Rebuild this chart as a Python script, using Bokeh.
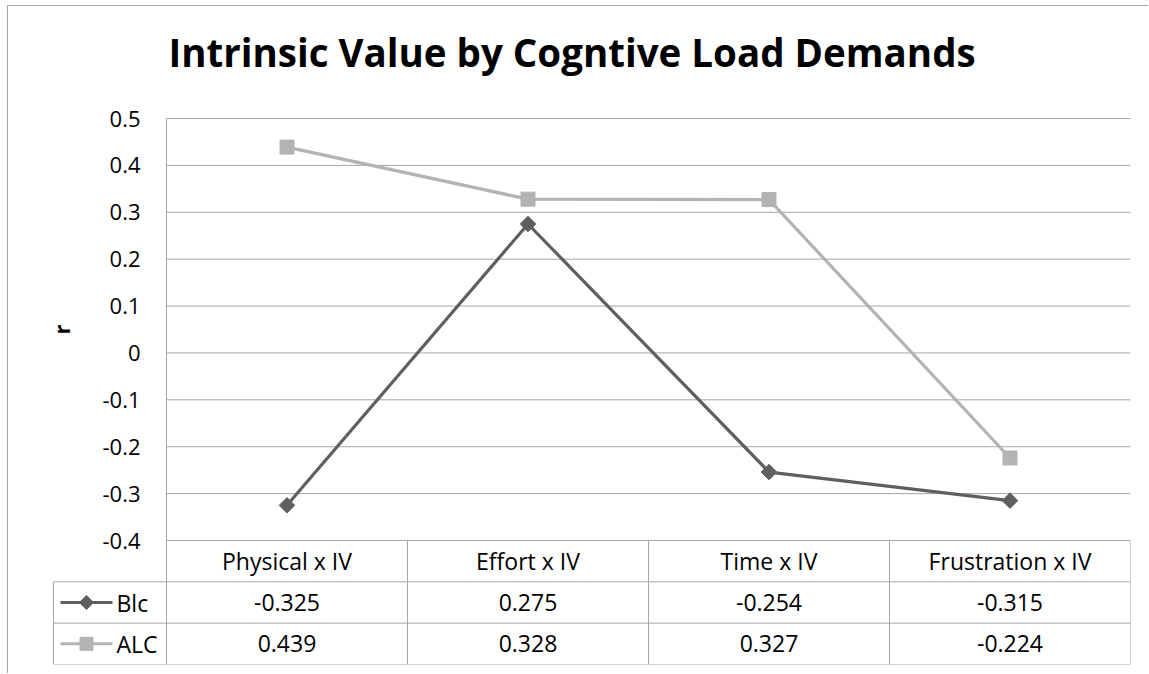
import math
from bokeh.plotting import figure
from bokeh.models import Range1d
from bokeh.embed import file_html
from bokeh.resources import INLINE
from bokeh.core.properties import value

TITLE = "Intrinsic Value by Cogntive Load Demands"
CATEGORIES = ["Physical x IV", "Effort x IV", "Time x IV", "Frustration x IV"]
SERIES_NAMES = ["Blc", "ALC"]
BLC = [-0.325, 0.275, -0.254, -0.315]
ALC = [0.439, 0.328, 0.327, -0.224]
Y_TICKS = [-0.4, -0.3, -0.2, -0.1, 0, 0.1, 0.2, 0.3, 0.4, 0.5]
Y_LABEL = "r"

FONT = "Open Sans"
GRID = "#a6a6a6"
COLORS = ["#5f5f5f", "#b3b3b3"]
SERIES = [BLC, ALC]

# ---- geometry (pixels) ----
W, H = 1141, 668
BORDER_L, BORDER_R, BORDER_T, BORDER_B = 12, 19, 0, 10
FRAME_W = W - BORDER_L - BORDER_R
FRAME_H = H - BORDER_T - BORDER_B
N = len(CATEGORIES)
COL_W = 241.0                  # px per category column
PLOT_LEFT_PAD = 146            # px between frame left and value axis
LEG_W = 113                    # legend-key column width of the data table
PLOT_H = 422                   # px of the plotting area (-0.4 .. 0.5)
TOP_PAD = 112                  # px above the 0.5 gridline inside the frame (title area)
TITLE_RISE = 67                # px from the 0.5 gridline up to the title baseline
Y_TOP, Y_BASE = Y_TICKS[-1], Y_TICKS[0]
PX_PER_UNIT = PLOT_H / (Y_TOP - Y_BASE)
ROW = (FRAME_H - PLOT_H - TOP_PAD) / 3 / PX_PER_UNIT   # table row height (data units)
Y_BOTTOM = Y_BASE - 3 * ROW
Y_MAX = Y_TOP + TOP_PAD / PX_PER_UNIT
X_START = -0.5 - PLOT_LEFT_PAD / COL_W
X0 = -0.5 - LEG_W / COL_W
X1 = N - 0.5
XS = list(range(N))

p = figure(width=W, height=H,
           x_range=Range1d(X_START, X1), y_range=Range1d(Y_BOTTOM, Y_MAX),
           x_axis_location=None, y_axis_location=None,
           output_backend="svg", toolbar_location=None,
           min_border_left=BORDER_L, min_border_right=BORDER_R,
           min_border_top=BORDER_T, min_border_bottom=BORDER_B)
p.styles = {"margin-left": "7px", "margin-top": "5px",
            "border-left": "1px solid #a6a6a6", "border-top": "1px solid #a6a6a6"}
p.outline_line_color = None
p.xgrid.visible = False
p.ygrid.visible = False

# chart title
p.text([-0.5 + 2 / COL_W], [Y_TOP + TITLE_RISE / PX_PER_UNIT], text=[TITLE],
       text_align="left", text_baseline="alphabetic", text_font=value(FONT),
       text_font_size="38.5px", text_font_style="bold", text_color="#000000")

# gridlines, value axis line, tick labels, axis title
p.segment(x0=[-0.5] * len(Y_TICKS), y0=Y_TICKS, x1=[X1] * len(Y_TICKS), y1=Y_TICKS,
          line_color=GRID, line_width=1)
p.text([-0.5 - 26 / COL_W] * len(Y_TICKS), Y_TICKS,
       text=[f"{t:g}" for t in Y_TICKS], text_align="right", text_baseline="middle",
       text_font=value(FONT), text_font_size="22px", text_color="#000000")
p.text([X_START + 40 / COL_W], [(Y_TOP + Y_BASE) / 2], text=[Y_LABEL], angle=math.pi / 2,
       text_align="center", text_baseline="middle", text_font=value(FONT),
       text_font_size="22px", text_font_style="bold", text_color="#000000")

# data table rules
rows_y = [Y_BASE - ROW * k for k in range(4)]
p.segment(x0=[X0] * 3, y0=rows_y[1:], x1=[X1] * 3, y1=rows_y[1:],
          line_color=GRID, line_width=1)
vx = [-0.5 + k for k in range(1, N + 1)]
p.segment(x0=vx, y0=[Y_BASE] * len(vx), x1=vx, y1=[Y_BOTTOM] * len(vx),
          line_color=GRID, line_width=1)
p.segment(x0=[-0.5], y0=[Y_TOP], x1=[-0.5], y1=[Y_BOTTOM], line_color=GRID, line_width=1)
p.segment(x0=[X0], y0=[rows_y[1]], x1=[X0], y1=[Y_BOTTOM], line_color=GRID, line_width=1)

# series
p.line(XS, BLC, line_color=COLORS[0], line_width=3.2)
p.scatter(XS, BLC, marker="square", angle=math.pi / 4, size=11,
          fill_color=COLORS[0], line_color=COLORS[0])
p.line(XS, ALC, line_color=COLORS[1], line_width=3.2)
p.scatter(XS, ALC, marker="square", size=14,
          fill_color=COLORS[1], line_color=COLORS[1])

# table texts
p.text(XS, [Y_BASE - ROW / 2] * N, text=CATEGORIES, text_align="center",
       text_baseline="middle", text_font=value(FONT),
       text_font_size="23px", text_color="#000000")
for i, (name, vals) in enumerate(zip(SERIES_NAMES, SERIES)):
    yy = Y_BASE - ROW * (1.5 + i)
    p.text(XS, [yy] * N, text=[f"{v:.3f}" for v in vals], text_align="center",
           text_baseline="middle", text_font=value(FONT),
           text_font_size="23px", text_color="#000000")
    p.segment(x0=[X0 + 7 / COL_W], y0=[yy], x1=[X0 + 59 / COL_W], y1=[yy],
              line_color=COLORS[i], line_width=3)
    if i == 0:
        p.scatter([X0 + 33 / COL_W], [yy], marker="square", angle=math.pi / 4,
                  size=10, fill_color=COLORS[i], line_color=COLORS[i])
    else:
        p.scatter([X0 + 33 / COL_W], [yy], marker="square", size=13,
                  fill_color=COLORS[i], line_color=COLORS[i])
    p.text([X0 + 63 / COL_W], [yy], text=[name], text_align="left",
           text_baseline="middle", text_font=value(FONT),
           text_font_size="23px", text_color="#000000")

open("out.html", "w").write(file_html(p, INLINE))
